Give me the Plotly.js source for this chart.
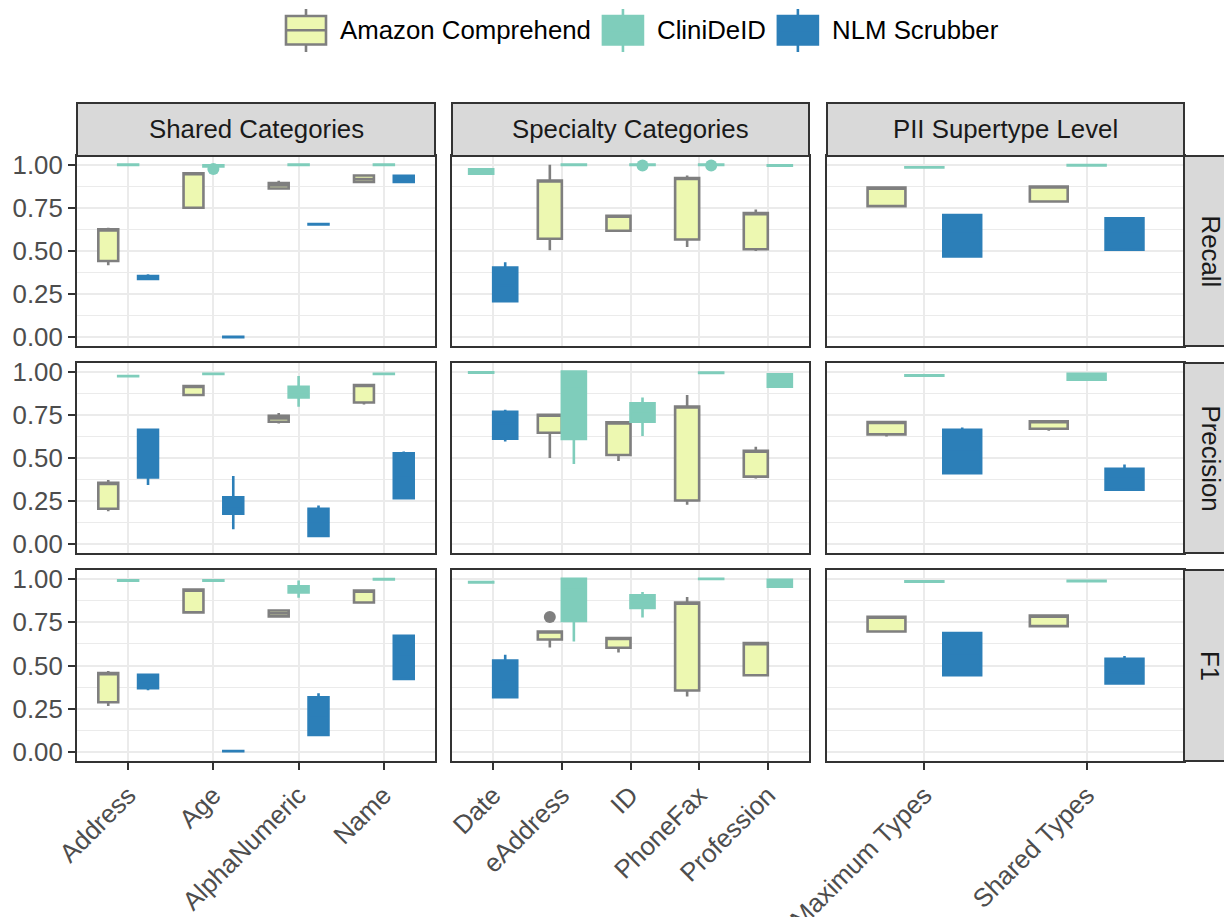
<!DOCTYPE html>
<html><head><meta charset="utf-8">
<script src="https://cdn.plot.ly/plotly-3.0.1.min.js"></script>
<style>html,body{margin:0;padding:0;background:#fff}#chart{width:1224px;height:917px}</style>
</head><body><div id="chart"></div>
<script>
// ---------------- data ----------------
const facetColumns = ["Shared Categories", "Specialty Categories", "PII Supertype Level"];
const metrics = ["Recall", "Precision", "F1"];
const tools = ["Amazon Comprehend", "CliniDeID", "NLM Scrubber"];

const sharedCategories = ["Address", "Age", "AlphaNumeric", "Name"];
const specialtyCategories = ["Date", "eAddress", "ID", "PhoneFax", "Profession"];
const supertypeCategories = ["Maximum Types", "Shared Types"];

const yTickValues = [0, 0.25, 0.5, 0.75, 1.0];

// each entry: [lower whisker, q1, median, q3, upper whisker], order:
// Address, Age, AlphaNumeric, Name, Date, eAddress, ID, PhoneFax, Profession, Maximum Types, Shared Types
const amazonRecall = [
  [0.417, 0.442, 0.625, 0.625, 0.635],
  [0.750, 0.750, 0.950, 0.950, 0.958],
  [0.862, 0.862, 0.880, 0.894, 0.906],
  [0.900, 0.900, 0.917, 0.937, 0.937],
  null,
  [0.504, 0.571, 0.908, 0.908, 1.000],
  [0.617, 0.617, 0.704, 0.704, 0.710],
  [0.523, 0.567, 0.923, 0.923, 0.937],
  [0.500, 0.510, 0.719, 0.719, 0.740],
  [0.760, 0.760, 0.867, 0.867, 0.867],
  [0.787, 0.787, 0.873, 0.873, 0.873]
];
const cliniRecall = [
  [0.998, 0.998, 1.000, 1.000, 1.000],
  [0.990, 0.990, 0.995, 0.996, 0.996],
  [0.998, 0.998, 1.000, 1.000, 1.000],
  [0.998, 0.998, 1.000, 1.000, 1.000],
  [0.946, 0.947, 0.960, 0.973, 0.975],
  [0.998, 0.998, 1.000, 1.000, 1.000],
  [0.998, 0.998, 1.000, 1.000, 1.000],
  [0.998, 0.998, 1.000, 1.000, 1.000],
  [0.994, 0.994, 0.996, 0.996, 0.996],
  [0.983, 0.983, 0.985, 0.985, 0.985],
  [0.996, 0.996, 0.998, 0.998, 0.998]
];
const nlmRecall = [
  [0.331, 0.338, 0.345, 0.355, 0.365],
  [0.001, 0.001, 0.003, 0.003, 0.003],
  [0.654, 0.654, 0.656, 0.656, 0.656],
  [0.898, 0.900, 0.920, 0.935, 0.935],
  [0.210, 0.210, 0.300, 0.404, 0.435],
  null, null, null, null,
  [0.469, 0.469, 0.600, 0.708, 0.708],
  [0.508, 0.508, 0.600, 0.690, 0.690]
];

const amazonPrecision = [
  [0.192, 0.206, 0.356, 0.356, 0.373],
  [0.865, 0.865, 0.917, 0.917, 0.917],
  [0.700, 0.710, 0.729, 0.744, 0.760],
  [0.810, 0.821, 0.923, 0.923, 0.929],
  null,
  [0.500, 0.646, 0.750, 0.750, 0.750],
  [0.483, 0.517, 0.706, 0.706, 0.706],
  [0.229, 0.254, 0.798, 0.798, 0.865],
  [0.381, 0.392, 0.542, 0.542, 0.565],
  [0.625, 0.637, 0.708, 0.708, 0.715],
  [0.658, 0.669, 0.713, 0.713, 0.713]
];
const cliniPrecision = [
  [0.973, 0.973, 0.975, 0.975, 0.975],
  [0.986, 0.986, 0.988, 0.988, 0.988],
  [0.796, 0.850, 0.880, 0.912, 0.975],
  [0.986, 0.986, 0.988, 0.988, 0.988],
  [0.994, 0.994, 0.996, 0.996, 0.996],
  [0.465, 0.610, 0.900, 1.000, 1.000],
  [0.627, 0.710, 0.770, 0.817, 0.850],
  [0.992, 0.992, 0.994, 0.994, 0.994],
  [0.913, 0.913, 0.950, 0.985, 0.992],
  [0.977, 0.977, 0.979, 0.979, 0.979],
  [0.954, 0.954, 0.970, 0.988, 0.988]
];
const nlmPrecision = [
  [0.344, 0.388, 0.500, 0.663, 0.663],
  [0.087, 0.177, 0.220, 0.273, 0.396],
  [0.048, 0.048, 0.120, 0.206, 0.225],
  [0.267, 0.267, 0.400, 0.527, 0.537],
  [0.596, 0.612, 0.700, 0.767, 0.779],
  null, null, null, null,
  [0.412, 0.412, 0.550, 0.663, 0.677],
  [0.317, 0.317, 0.380, 0.437, 0.462]
];

const amazonF1 = [
  [0.267, 0.288, 0.456, 0.456, 0.469],
  [0.806, 0.806, 0.937, 0.937, 0.937],
  [0.775, 0.783, 0.800, 0.817, 0.817],
  [0.856, 0.863, 0.931, 0.931, 0.931],
  null,
  [0.604, 0.650, 0.696, 0.696, 0.696],
  [0.575, 0.602, 0.658, 0.658, 0.658],
  [0.321, 0.356, 0.862, 0.862, 0.894],
  [0.444, 0.444, 0.629, 0.629, 0.629],
  [0.696, 0.696, 0.781, 0.781, 0.781],
  [0.721, 0.727, 0.787, 0.787, 0.787]
];
const cliniF1 = [
  [0.988, 0.988, 0.990, 0.990, 0.990],
  [0.988, 0.988, 0.990, 0.990, 0.990],
  [0.890, 0.921, 0.940, 0.956, 0.990],
  [0.996, 0.996, 0.998, 0.998, 0.998],
  [0.979, 0.979, 0.981, 0.981, 0.981],
  [0.638, 0.756, 0.950, 1.000, 1.000],
  [0.777, 0.831, 0.870, 0.904, 0.923],
  [0.998, 0.998, 1.000, 1.000, 1.000],
  [0.954, 0.954, 0.970, 0.994, 0.994],
  [0.983, 0.983, 0.985, 0.985, 0.985],
  [0.986, 0.986, 0.988, 0.988, 0.988]
];
const nlmF1 = [
  [0.358, 0.369, 0.410, 0.446, 0.452],
  [0.006, 0.006, 0.008, 0.008, 0.008],
  [0.100, 0.100, 0.200, 0.317, 0.340],
  [0.423, 0.423, 0.550, 0.671, 0.671],
  [0.312, 0.317, 0.420, 0.529, 0.562],
  null, null, null, null,
  [0.444, 0.444, 0.570, 0.687, 0.687],
  [0.396, 0.396, 0.460, 0.538, 0.554]
];

// outlier points
const outlierTool = ["CliniDeID", "CliniDeID", "CliniDeID", "Amazon Comprehend"];
const outlierMetric = ["Recall", "Recall", "Recall", "F1"];
const outlierCategory = ["Age", "ID", "PhoneFax", "eAddress"];
const outlierValue = [0.975, 0.995, 0.995, 0.779];

// ---------------- styling / layout ----------------
const W = 1224, H = 917;
const FONT = "Liberation Sans, Arial, Helvetica, sans-serif";
const FS = 25.8;
const colPx = [[77, 435], [452, 809], [827, 1184]];
const rowPx = [[156, 346], [363, 553], [570, 761]];
const fillColors = ["#EDF8B1", "#7FCDBB", "#2C7FB8"];
const lineColors = ["#7F7F7F", "#7FCDBB", "#2C7FB8"];
const dodgeWidth = 0.7;

const columnCategories = [sharedCategories, specialtyCategories, supertypeCategories];
const allCategories = sharedCategories.concat(specialtyCategories, supertypeCategories);
const statsTable = [
  [amazonRecall, amazonPrecision, amazonF1],
  [cliniRecall, cliniPrecision, cliniF1],
  [nlmRecall, nlmPrecision, nlmF1]
];

const px = v => v / W;
const py = v => 1 - v / H;

const traces = [];
const layout = {
  width: W, height: H,
  margin: {l: 0, r: 0, t: 0, b: 0},
  paper_bgcolor: "#fff", plot_bgcolor: "#fff",
  font: {family: FONT, size: FS, color: "#4D4D4D"},
  showlegend: false,
  shapes: [], annotations: []
};

const posLookup = {};

for (let r = 0; r < 3; r++) {
  for (let c = 0; c < 3; c++) {
    const k = r * 3 + c;
    const s = k === 0 ? "" : String(k + 1);
    const cats = columnCategories[c];
    cats.forEach((cat, i) => {
      const gi = allCategories.indexOf(cat);
      const present = [];
      tools.forEach((t, ti) => { if (statsTable[ti][r][gi]) present.push(ti); });
      const w = dodgeWidth / present.length;
      present.forEach((ti, j) => {
        const st = statsTable[ti][r][gi];
        const pos = (i + 1) - dodgeWidth / 2 + (j + 0.5) * w;
        posLookup[tools[ti] + "|" + metrics[r] + "|" + cat] = {pos: pos, s: s};
        traces.push({
          type: "box", orientation: "v",
          name: tools[ti], legendgroup: tools[ti],
          x: [pos],
          lowerfence: [st[0]], q1: [st[1]], median: [st[2]], q3: [st[3]], upperfence: [st[4]],
          width: w,
          fillcolor: fillColors[ti],
          line: {color: lineColors[ti], width: 2.6},
          whiskerwidth: 0,
          boxpoints: false,
          hoverinfo: "skip",
          xaxis: "x" + s, yaxis: "y" + s
        });
      });
    });

    layout["xaxis" + s] = {
      domain: [px(colPx[c][0]), px(colPx[c][1])], anchor: "y" + s,
      range: [0.4, cats.length + 0.6],
      tickmode: "array",
      tickvals: cats.map((_, i) => i + 1),
      ticktext: cats,
      showticklabels: r === 2,
      tickangle: -45,
      ticks: r === 2 ? "outside" : "",
      ticklen: 7, tickwidth: 2, tickcolor: "#333333",
      tickfont: {family: FONT, size: FS, color: "#4D4D4D"},
      showgrid: true, gridcolor: "#EBEBEB", gridwidth: 2,
      zeroline: false,
      showline: true, mirror: true, linecolor: "#333333", linewidth: 2,
      fixedrange: true
    };
    layout["yaxis" + s] = {
      domain: [py(rowPx[r][1]), py(rowPx[r][0])], anchor: "x" + s,
      range: [-0.05, 1.05],
      tickmode: "array",
      tickvals: yTickValues,
      ticktext: yTickValues.map(v => v.toFixed(2)),
      showticklabels: c === 0,
      ticks: c === 0 ? "outside" : "",
      ticklen: 7, tickwidth: 2, tickcolor: "#333333",
      tickfont: {family: FONT, size: FS, color: "#4D4D4D"},
      showgrid: true, gridcolor: "#EBEBEB", gridwidth: 2,
      minor: {tickvals: [0.125, 0.375, 0.625, 0.875], showgrid: true, gridcolor: "#EBEBEB", gridwidth: 1.1, ticks: ""},
      zeroline: false,
      showline: true, mirror: true, linecolor: "#333333", linewidth: 2,
      fixedrange: true
    };
  }
}

// outliers
outlierValue.forEach((v, idx) => {
  const ti = tools.indexOf(outlierTool[idx]);
  const p = posLookup[outlierTool[idx] + "|" + outlierMetric[idx] + "|" + outlierCategory[idx]];
  traces.push({
    type: "scatter", mode: "markers",
    x: [p.pos], y: [v],
    marker: {size: 12, color: lineColors[ti]},
    hoverinfo: "skip",
    xaxis: "x" + p.s, yaxis: "y" + p.s
  });
});

// strips
const stripTop = 103, stripBottom = 156;
facetColumns.forEach((label, c) => {
  layout.shapes.push({
    type: "rect", xref: "paper", yref: "paper",
    x0: px(colPx[c][0]), x1: px(colPx[c][1]),
    y0: py(stripBottom), y1: py(stripTop),
    fillcolor: "#D9D9D9", line: {color: "#333333", width: 2}
  });
  layout.annotations.push({
    xref: "paper", yref: "paper",
    x: px((colPx[c][0] + colPx[c][1]) / 2), y: py((stripTop + stripBottom) / 2),
    text: label, showarrow: false, xanchor: "center", yanchor: "middle",
    font: {family: FONT, size: FS, color: "#1A1A1A"}
  });
});
const stripLeft = 1184, stripRight = 1237;
metrics.forEach((label, r) => {
  layout.shapes.push({
    type: "rect", xref: "paper", yref: "paper",
    x0: px(stripLeft), x1: px(stripRight),
    y0: py(rowPx[r][1]), y1: py(rowPx[r][0]),
    fillcolor: "#D9D9D9", line: {color: "#333333", width: 2}
  });
  layout.annotations.push({
    xref: "paper", yref: "paper",
    x: px((stripLeft + stripRight) / 2), y: py((rowPx[r][0] + rowPx[r][1]) / 2),
    text: label, showarrow: false, xanchor: "center", yanchor: "middle", textangle: 90,
    font: {family: FONT, size: FS, color: "#1A1A1A"}
  });
});

// legend (ggplot-style keys: box with median line and whiskers)
const measureCtx = document.createElement("canvas").getContext("2d");
measureCtx.font = FS + "px 'Liberation Sans', Arial, sans-serif";
let legendX = 286;
const keyW = 40, keyTop = 16, keyBottom = 44.5, whiskTop = 9, whiskBottom = 52, keyMid = 30.3;
tools.forEach((t, ti) => {
  const cx = legendX + keyW / 2;
  layout.shapes.push({type: "line", xref: "paper", yref: "paper",
    x0: px(cx), x1: px(cx), y0: py(whiskTop), y1: py(keyTop),
    line: {color: lineColors[ti], width: 2.6}});
  layout.shapes.push({type: "line", xref: "paper", yref: "paper",
    x0: px(cx), x1: px(cx), y0: py(keyBottom), y1: py(whiskBottom),
    line: {color: lineColors[ti], width: 2.6}});
  layout.shapes.push({type: "rect", xref: "paper", yref: "paper",
    x0: px(legendX), x1: px(legendX + keyW), y0: py(keyBottom), y1: py(keyTop),
    fillcolor: fillColors[ti], line: {color: lineColors[ti], width: 2.6}});
  layout.shapes.push({type: "line", xref: "paper", yref: "paper",
    x0: px(legendX), x1: px(legendX + keyW), y0: py(keyMid), y1: py(keyMid),
    line: {color: lineColors[ti], width: 2.6}});
  const textX = legendX + keyW + 12;
  layout.annotations.push({
    xref: "paper", yref: "paper", x: px(textX), y: py(keyMid),
    text: t, showarrow: false, xanchor: "left", yanchor: "middle",
    font: {family: FONT, size: FS, color: "#000000"}
  });
  legendX = textX + measureCtx.measureText(t).width + 14;
});

Plotly.newPlot("chart", traces, layout, {displayModeBar: false, staticPlot: true});
</script>
</body></html>
